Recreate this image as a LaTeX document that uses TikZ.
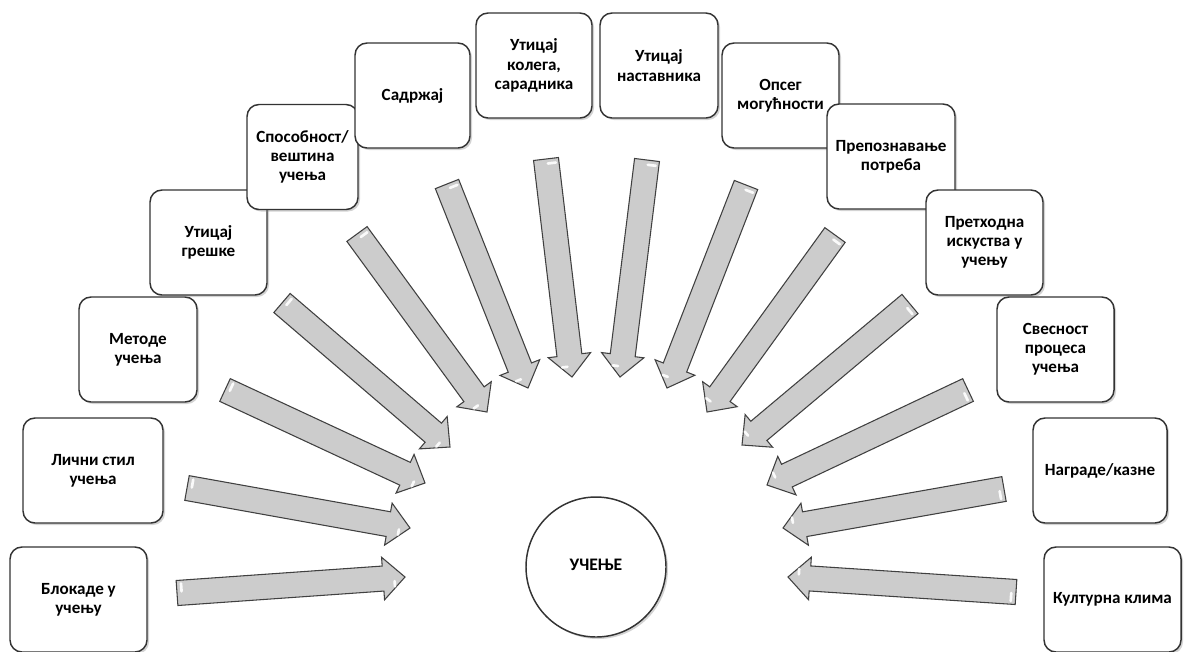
\documentclass[tikz,border=0pt]{standalone}
\usepackage{fontspec}
\setmainfont{Carlito}
\usetikzlibrary{calc,shadows}
\tikzset{
  box/.style={draw=black!80, line width=1.1pt, rounded corners=9pt, fill=white,
    minimum height=78.75pt, align=center, inner sep=2pt,
    font=\bfseries\fontsize{12.8}{14.4}\selectfont,
    drop shadow={shadow xshift=1.5pt, shadow yshift=-1.5pt, opacity=0.35}},
  hub/.style={circle, draw=black!80, line width=1.1pt, fill=white, minimum size=105pt,
    inner sep=0pt, font=\bfseries\fontsize{13.2}{15}\selectfont,
    drop shadow={shadow xshift=1.5pt, shadow yshift=-1.5pt, opacity=0.35}},
  blockarrow/.style={fill=black!20, draw=black!75, line width=0.8pt, line join=miter},
  gloss/.style={white, line width=2pt, line cap=round, opacity=0.9}
}
\newcommand\blockarr[2]{%
  \coordinate (hb) at ($(#2)!16.5pt!(#1)$);
  \coordinate (gt) at ($(#1)!3.5pt!(#2)$);
  \coordinate (gh) at ($(#2)!8pt!(#1)$);
  \draw[blockarrow] ($(#1)!9.4pt!90:(#2)$) -- ($(hb)!9.4pt!90:(#2)$) -- ($(hb)!16pt!90:(#2)$)
     -- (#2) -- ($(hb)!16pt!-90:(#2)$) -- ($(hb)!9.4pt!-90:(#2)$) -- ($(#1)!9.4pt!-90:(#2)$) -- cycle;
  \draw[gloss] ($(gt)!7pt!90:(#2)$) -- ($(gt)!1pt!90:(#2)$);
  \draw[gloss] ($(gh)!6.5pt!-90:(#2)$) -- ($(gh)!2.5pt!-90:(#2)$);
}
\begin{document}
\begin{tikzpicture}[x=0.75pt,y=-0.75pt]
\useasboundingbox (0,0) rectangle (1184,651);

% arrow end points
\coordinate (t1) at (177,593);  \coordinate (h1) at (405,577);
\coordinate (t2) at (187,488);  \coordinate (h2) at (410,528);
\coordinate (t3) at (225,390);  \coordinate (h3) at (425,483);
\coordinate (t4) at (282,303);  \coordinate (h4) at (450,447);
\coordinate (t5) at (357,234);  \coordinate (h5) at (487,412);
\coordinate (t6) at (447,184);  \coordinate (h6) at (528,388);
\coordinate (t7) at (546,159);  \coordinate (h7) at (572,377);
\coordinate (t8) at (647,160);  \coordinate (h8) at (620,377);
\coordinate (t9) at (746,185);  \coordinate (h9) at (667,388);
\coordinate (t10) at (835,235); \coordinate (h10) at (707,412);
\coordinate (t11) at (910,304); \coordinate (h11) at (742,445);
\coordinate (t12) at (968,390); \coordinate (h12) at (767,485);
\coordinate (t13) at (1004,489); \coordinate (h13) at (783,528);
\coordinate (t14) at (1016,592); \coordinate (h14) at (788,577);

\foreach \i in {1,...,14}{\blockarr{t\i}{h\i}}

% boxes
\node[box, minimum width=137*0.75pt] (b1) at (78.5,599.5) {Блокаде у\\учењу};
\node[box, minimum width=140*0.75pt] (b2) at (93,470.5) {Лични стил\\учења};
\node[box, minimum width=118*0.75pt] (b3) at (138,349.5) {Методе\\учења};
\node[box, minimum width=117*0.75pt] (b4) at (208.5,242.5) {Утицај\\грешке};
\node[box, minimum width=111*0.75pt] (b5) at (302.5,157) {Способност/\\вештина\\учења};
\node[box, minimum width=115*0.75pt] (b6) at (412.5,95.5) {Садржај};
\node[box, minimum width=116*0.75pt] (b7) at (534,65.5) {Утицај\\колега,\\сарадника};
\node[box, minimum width=118*0.75pt] (b8) at (659,65.5) {Утицај\\наставника};
\node[box, minimum width=117*0.75pt] (b9) at (780.5,95.5) {Опсег\\могућности};
\node[box, minimum width=128*0.75pt] (b10) at (891,156.5) {Препознавање\\потреба};
\node[box, minimum width=117*0.75pt] (b11) at (984.5,242.5) {Претходна\\искуства у\\учењу};
\node[box, minimum width=117*0.75pt] (b12) at (1055.5,349.5) {Свесност\\процеса\\учења};
\node[box, minimum width=134*0.75pt] (b13) at (1100,470.5) {Награде/казне};
\node[box, minimum width=137*0.75pt] (b14) at (1112.5,599.5) {Културна клима};

\node[hub] (c) at (596,567) {\raisebox{3pt}{УЧЕЊЕ}};
\end{tikzpicture}
\end{document}
